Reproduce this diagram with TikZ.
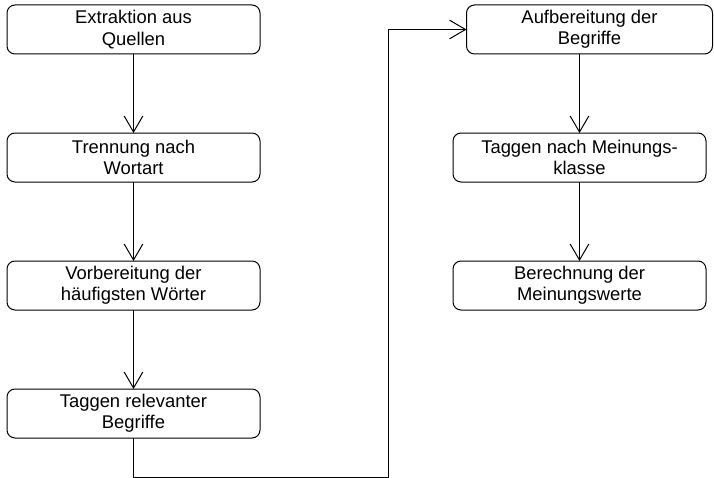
\documentclass[tikz,border=0pt]{standalone}
\usepackage{fontspec}
\setmainfont{Liberation Sans}
\usetikzlibrary{arrows.meta,positioning}

\begin{document}
\begin{tikzpicture}[
    stepbox/.style={draw=black, rounded corners=6pt, line width=0.75pt,
                minimum width=189.75pt, minimum height=36.75pt,
                inner sep=1pt, outer sep=0pt, align=center,
                font=\fontsize{13.8}{16}\selectfont},
    arr/.style={-{Straight Barb[length=12pt,width=14pt]}, black, line width=0.75pt}
  ]
    \useasboundingbox (0,0) rectangle (535.5pt,-358.5pt);

    % left column
    \node[stepbox, anchor=north west] (ext) at (5.25pt,-3.75pt) {Extraktion aus\\Quellen};
    \node[stepbox, below=59.25pt of ext]  (wort) {Trennung nach\\Wortart};
    \node[stepbox, below=59.25pt of wort] (vor)  {Vorbereitung der\\häufigsten Wörter};
    \node[stepbox, below=59.25pt of vor]  (tagb) {Taggen relevanter\\Begriffe};

    % right column
    \node[stepbox, right=144.75pt of wort] (tagm) {Taggen nach Meinungs-\\klasse};
    \node[stepbox, below=59.25pt of tagm]  (ber)  {Berechnung der\\Meinungswerte};
    \node[stepbox, minimum width=184.5pt, above=59.25pt of tagm, xshift=7.5pt] (auf)
      {Aufbereitung der\\Begriffe};

    \foreach \a/\b in {ext/wort, wort/vor, vor/tagb, tagm/ber}
      \draw[arr] (\a) -- (\b);
    \draw[arr] (auf.south -| tagm.north) -- (tagm.north);

    % connection between columns
    \draw[arr] (tagb.south) -- ++(0,-29.25pt) -| ([xshift=-58.5pt]auf.west) -- (auf.west);
  \end{tikzpicture}
\end{document}
